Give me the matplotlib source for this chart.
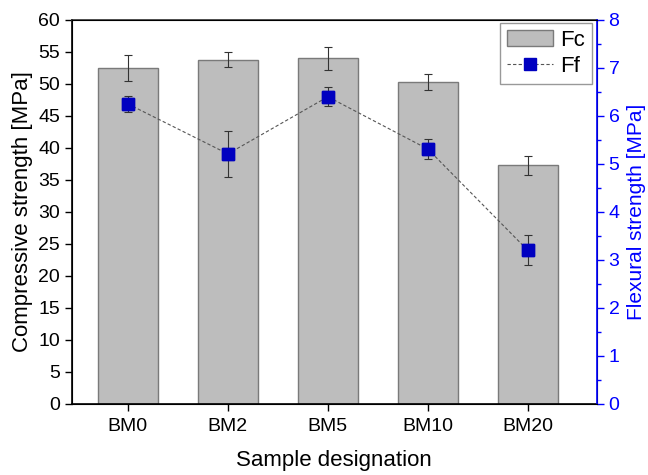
import numpy as np
import matplotlib.pyplot as plt

plt.rcParams['font.family'] = ['Liberation Sans', 'DejaVu Sans']

samples = ['BM0', 'BM2', 'BM5', 'BM10', 'BM20']
fc = [52.5, 53.8, 54.0, 50.3, 37.3]
fc_err = [2.1, 1.2, 1.8, 1.3, 1.5]
ff = [6.25, 5.21, 6.40, 5.31, 3.20]
ff_err = [0.17, 0.48, 0.20, 0.21, 0.31]

x = np.arange(len(samples))
blue = '#0000ff'

fig = plt.figure(figsize=(6.48, 4.75), dpi=100)
ax = fig.add_axes([0.111, 0.1495, 0.81, 0.8085])

bars = ax.bar(x, fc, width=0.6, color='#bdbdbd', edgecolor='#7a7a7a', linewidth=1.0,
              yerr=fc_err, capsize=3, error_kw=dict(ecolor='#333333', elinewidth=0.8, capthick=0.8),
              label='Fc', zorder=2)
ax.set_xlim(-0.56, 4.69)
ax.set_ylim(0, 60)
ax.set_yticks(np.arange(0, 61, 5))
ax.set_xticks(x)
ax.set_xticklabels(samples)
ax.tick_params(axis='both', direction='out', labelsize=14, length=5, width=1)
ax.tick_params(axis='x', pad=5)
ax.set_xlabel('Sample designation', fontsize=16, labelpad=11)
ax.set_ylabel('Compressive strength [MPa]', fontsize=16, labelpad=4)
for s in ['left', 'bottom', 'top']:
    ax.spines[s].set_linewidth(1.2)
ax.spines['top'].set_color('#333333')

ax2 = ax.twinx()
ax2.errorbar(x, ff, yerr=ff_err, fmt='s', color='#0000c0', markersize=8,
             ecolor='#333333', elinewidth=0.8, capsize=3, capthick=0.8, zorder=3)
line, = ax2.plot(x, ff, linestyle='--', dashes=(3, 2), color='#555555', linewidth=0.8,
                 marker='s', markersize=8, markerfacecolor='#0000c0',
                 markeredgecolor='#0000c0', label='Ff', zorder=3)
ax2.set_ylim(0, 8)
ax2.set_yticks(np.arange(0, 9, 1))
ax2.set_yticks(np.arange(0.5, 8, 1), minor=True)
ax2.tick_params(axis='y', which='major', colors=blue, labelsize=14, length=5, width=1)
ax2.tick_params(axis='y', which='minor', colors=blue, length=3, width=1)
ax2.spines['right'].set_color(blue)
ax2.spines['right'].set_linewidth(1.2)
ax2.set_ylabel('Flexural strength [MPa]', fontsize=15, color=blue, labelpad=5)

leg = ax2.legend([bars, line], ['Fc', 'Ff'], loc='upper right', fontsize=16,
                 frameon=True, fancybox=False, edgecolor='#808080',
                 handlelength=2.1, borderpad=0.3, labelspacing=0.25,
                 handletextpad=0.3, borderaxespad=0, bbox_to_anchor=(0.99, 0.992))
leg.get_frame().set_linewidth(1)

fig.savefig('out.png', dpi=100)
